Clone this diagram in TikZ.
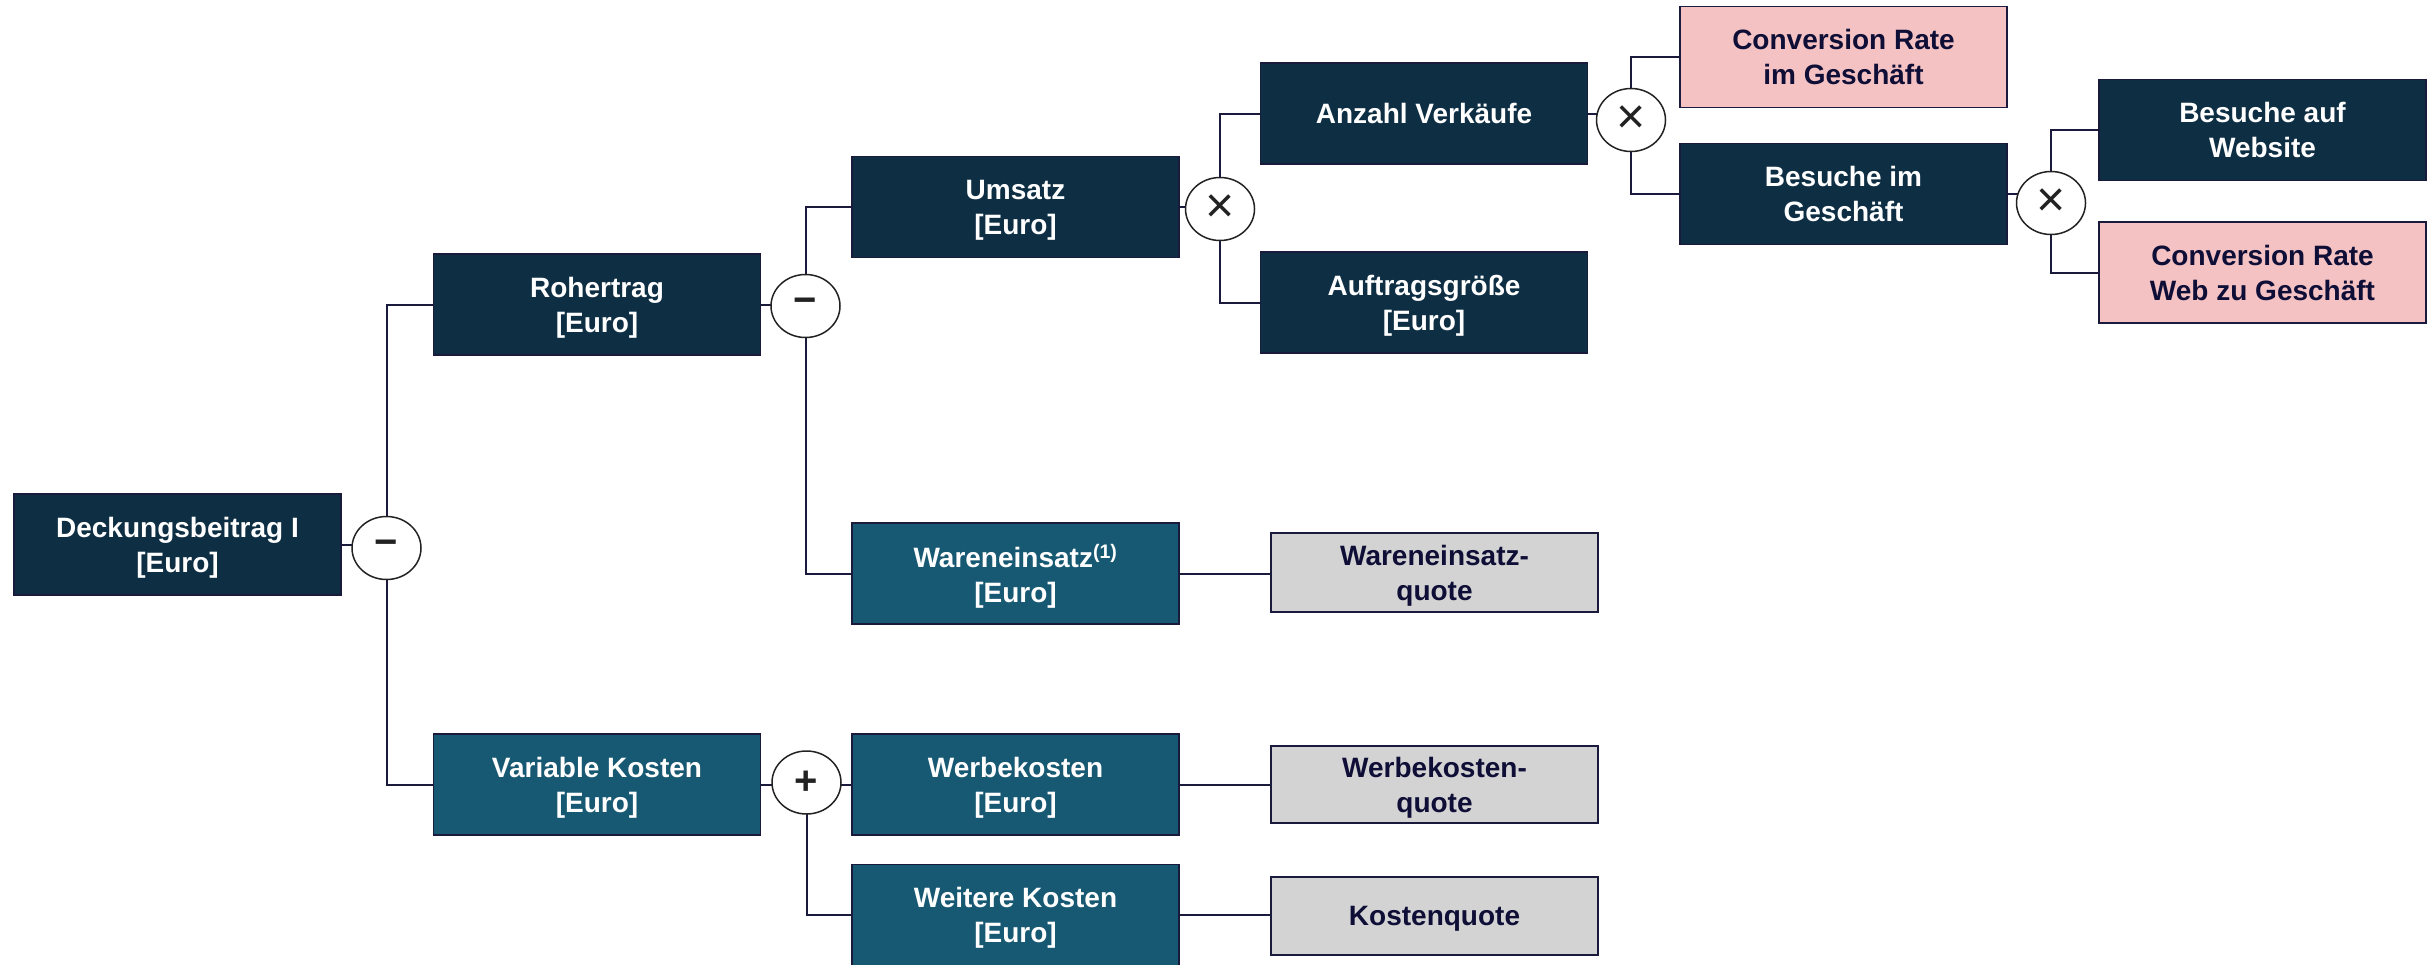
\documentclass[tikz,border=0pt]{standalone}
\usepackage{fontspec}
\setmainfont{Liberation Sans}
\usetikzlibrary{shapes.geometric,backgrounds}
\definecolor{dbnavy}{HTML}{0E2E44}
\definecolor{dbteal}{HTML}{175873}
\definecolor{dbpink}{HTML}{F4C2C3}
\definecolor{dbgray}{HTML}{D3D3D3}
\definecolor{dbline}{HTML}{1A1A3C}
\definecolor{dbtext}{HTML}{0E0E36}
\definecolor{dbsym}{HTML}{222222}
\begin{document}
\begin{tikzpicture}[x=1pt,y=-1pt,
  box/.style={draw=dbline, line width=1.5pt, minimum width=327pt, minimum height=101pt,
    inner sep=0pt, align=center, text depth=0pt, font=\fontsize{28}{35}\selectfont\bfseries, text=white},
  darkbox/.style={box, fill=dbnavy},
  bluebox/.style={box, fill=dbteal},
  pinkbox/.style={box, fill=dbpink, text=dbtext},
  graybox/.style={box, fill=dbgray, text=dbtext, minimum height=79pt},
  op/.style={ellipse, draw=dbsym, line width=1.5pt, fill=white, minimum width=69pt,
    minimum height=63pt, inner sep=0pt, text=dbsym, font=\fontsize{40}{40}\selectfont\bfseries},
  mulop/.style={op, font=\fontsize{50}{50}\selectfont},
  conn/.style={draw=dbline, line width=2pt}]
\useasboundingbox (0,0) rectangle (2435,964);

% boxes
\node[darkbox] (db)  at (177.5,544.5) {Deckungsbeitrag I\\{[Euro]}};
\node[darkbox] (roh) at (597,304.5)   {Rohertrag\\{[Euro]}};
\node[darkbox] (ums) at (1015.5,207)  {Umsatz\\{[Euro]}};
\node[darkbox] (anz) at (1424,113.5)  {Anzahl Verkäufe};
\node[darkbox] (auf) at (1424,302.5)  {Auftragsgröße\\{[Euro]}};
\node[pinkbox] (cri) at (1843.5,57)   {Conversion Rate\\im Geschäft};
\node[darkbox] (big) at (1843.5,194)  {Besuche im\\Geschäft};
\node[darkbox] (baw) at (2262.5,130)  {Besuche auf\\Website};
\node[pinkbox] (crw) at (2262.5,272.5){Conversion Rate\\Web zu Geschäft};

\node[bluebox] (we)  at (1015.5,573.5) {Wareneinsatz\textsuperscript{(1)}\\{[Euro]}};
\node[bluebox] (vk)  at (597,784.5)    {Variable Kosten\\{[Euro]}};
\node[bluebox] (wk)  at (1015.5,784.5) {Werbekosten\\{[Euro]}};
\node[bluebox] (wtk) at (1015.5,915)   {Weitere Kosten\\{[Euro]}};

\node[graybox] (weq) at (1434.5,572.5) {Wareneinsatz-\\quote};
\node[graybox, minimum height=77pt] (wkq) at (1434.5,784.5) {Werbekosten-\\quote};
\node[graybox, minimum height=78pt] (kq)  at (1434.5,916)   {Kostenquote};

% operators
\node[op] (c1) at (386.5,548)  {−};
\node[op] (c2) at (805.5,306)  {−};
\node[mulop] (c3) at (1220,209)   {×};
\node[mulop] (c4) at (1631,120)   {×};
\node[mulop] (c5) at (2051,203)   {×};
\node[op] (c6) at (806.5,782.5){+};

% connectors
\begin{scope}[on background layer]
  \draw[conn] (db.east) -- (db.east -| c1.center);
  \draw[conn] (c1.center) |- (roh.west);
  \draw[conn] (c1.center) |- (vk.west);
  \draw[conn] (roh.east) -- (roh.east -| c2.center);
  \draw[conn] (c2.center) |- (ums.west);
  \draw[conn] (c2.center) |- (we.west);
  \draw[conn] (ums.east) -- (ums.east -| c3.center);
  \draw[conn] (c3.center) |- (anz.west);
  \draw[conn] (c3.center) |- (auf.west);
  \draw[conn] (anz.east) -- (anz.east -| c4.center);
  \draw[conn] (c4.center) |- (cri.west);
  \draw[conn] (c4.center) |- (big.west);
  \draw[conn] (big.east) -- (big.east -| c5.center);
  \draw[conn] (c5.center) |- (baw.west);
  \draw[conn] (c5.center) |- (crw.west);
  \draw[conn] (vk.east) -- (vk.east -| c6.center);
  \draw[conn] (c6.center) |- (wk.west);
  \draw[conn] (c6.center) |- (wtk.west);
  \draw[conn] (we.east) -- (we.east -| weq.west);
  \draw[conn] (wk.east) -- (wkq.west);
  \draw[conn] (wtk.east) -- (wtk.east -| kq.west);
\end{scope}
\end{tikzpicture}
\end{document}
